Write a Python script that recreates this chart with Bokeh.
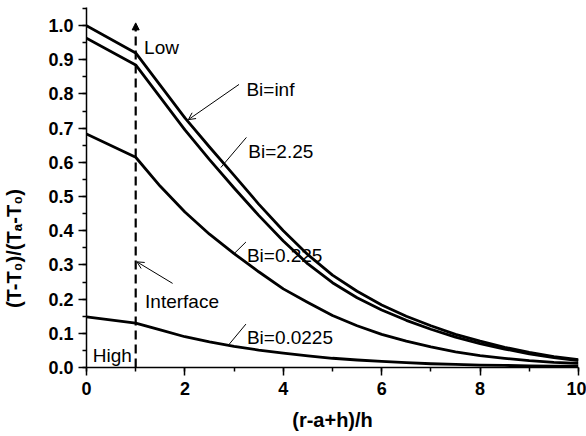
from bokeh.plotting import figure
from bokeh.models import (Range1d, SingleIntervalTicker, NumeralTickFormatter,
                          Arrow, OpenHead, NormalHead)
from bokeh.core.properties import value
from bokeh.embed import file_html
from bokeh.resources import INLINE

# ---- data ----
x_vals = [0, 1, 1.5, 2, 2.5, 3, 3.5, 4, 4.5, 5, 5.5, 6, 6.5, 7, 7.5, 8, 8.5, 9, 9.5, 10]
bi_inf = [1.0, 0.92, 0.825, 0.73, 0.645, 0.562, 0.478, 0.40, 0.33, 0.27,
          0.223, 0.183, 0.15, 0.122, 0.097, 0.077, 0.059, 0.044, 0.032, 0.023]
bi_2_25 = [0.963, 0.885, 0.79, 0.695, 0.608, 0.525, 0.445, 0.37, 0.303, 0.248,
           0.204, 0.168, 0.138, 0.112, 0.089, 0.07, 0.054, 0.04, 0.029, 0.02]
bi_0_225 = [0.683, 0.615, 0.53, 0.455, 0.39, 0.333, 0.28, 0.23, 0.19, 0.152,
            0.122, 0.097, 0.077, 0.06, 0.046, 0.035, 0.027, 0.02, 0.015, 0.012]
bi_0_0225 = [0.148, 0.13, 0.11, 0.09, 0.075, 0.062, 0.051, 0.042, 0.034, 0.027,
             0.022, 0.018, 0.014, 0.011, 0.009, 0.007, 0.006, 0.005, 0.004, 0.004]

interface_x = 1.0
interface_top = 1.008

labels = ["Bi=inf", "Bi=2.25", "Bi=0.225", "Bi=0.0225"]
label_x = [3.25, 3.29, 3.26, 3.26]
label_y = [0.814, 0.633, 0.328, 0.088]
# pointer line: start (near label) -> end (on curve)
ptr_x0 = [3.10, 3.25, 3.24, 3.24]
ptr_y0 = [0.828, 0.673, 0.367, 0.127]
ptr_x1 = [2.07, 2.73, 3.00, 2.90]
ptr_y1 = [0.725, 0.585, 0.333, 0.068]

notes = ["Low", "Interface", "High"]
note_x = [1.17, 1.19, 0.126]
note_y = [0.937, 0.192, 0.036]

x_title = "(r-a+h)/h"
y_title = "(T-T\u2080)/(T\u2090-T\u2080)"

FONT = "Liberation Sans"

p = figure(width=586, height=436, output_backend="svg", toolbar_location=None,
           x_range=Range1d(0, 10), y_range=Range1d(0, 1.053),
           min_border_left=86, min_border_right=8, min_border_top=7,
           min_border_bottom=69)
p.outline_line_color = None
p.xgrid.visible = False
p.ygrid.visible = False
p.background_fill_color = "white"
p.border_fill_color = "white"

for ys in (bi_inf, bi_2_25, bi_0_225, bi_0_0225):
    p.line(x_vals, ys, line_color="black", line_width=2.8, line_join="round")

# interface dashed arrow
p.add_layout(Arrow(end=NormalHead(size=7, fill_color="black", line_color="black", line_width=1),
                   x_start=interface_x, y_start=0, x_end=interface_x, y_end=interface_top,
                   line_dash="9 5", line_width=2.2, line_color="black"))

# pointer lines for labels
p.add_layout(Arrow(end=OpenHead(size=7, line_width=1, line_color="black"),
                   x_start=ptr_x0[0], y_start=ptr_y0[0], x_end=ptr_x1[0], y_end=ptr_y1[0],
                   line_width=1, line_color="black"))
p.segment(ptr_x0[1:], ptr_y0[1:], ptr_x1[1:], ptr_y1[1:], line_color="black", line_width=1)

# Interface pointer
p.add_layout(Arrow(end=OpenHead(size=7, line_width=1, line_color="black"),
                   x_start=1.75, y_start=0.246, x_end=1.025, y_end=0.309,
                   line_width=1, line_color="black"))

p.text(label_x, label_y, text=labels, text_font=value(FONT), text_font_size="19px",
       text_baseline="alphabetic", text_align="left", text_color="black")
p.text(note_x, note_y, text=notes, text_font=value(FONT), text_font_size="19px",
       text_baseline="alphabetic", text_align="left", text_color="black")

# axes
p.xaxis.ticker = SingleIntervalTicker(interval=2, num_minor_ticks=2)
p.yaxis.ticker = SingleIntervalTicker(interval=0.1, num_minor_ticks=2)
p.xaxis.formatter = NumeralTickFormatter(format="0")
p.yaxis.formatter = NumeralTickFormatter(format="0.0")
for ax in (p.xaxis[0], p.yaxis[0]):
    ax.axis_line_width = 1.5
    ax.axis_line_color = "black"
    ax.major_tick_line_width = 1.5
    ax.minor_tick_line_width = 1.5
    ax.major_tick_line_color = "black"
    ax.minor_tick_line_color = "black"
    ax.major_tick_out = 8
    ax.major_tick_in = 0
    ax.minor_tick_out = 4
    ax.minor_tick_in = 0
    ax.major_label_text_font = FONT
    ax.major_label_text_font_style = "bold"
    ax.major_label_text_font_size = "18px"
    ax.major_label_text_color = "black"
    ax.axis_label_text_font = FONT
    ax.axis_label_text_font_style = "bold"
    ax.axis_label_text_font_size = "20px"
    ax.axis_label_text_color = "black"

p.xaxis.axis_label = x_title
p.xaxis.major_label_standoff = 6
p.yaxis.major_label_standoff = 5
p.xaxis.axis_label_standoff = 11

# y title: padded at its (upper) end with no-break spaces so that it sits
# lower than the frame centre, as in the reference
p.yaxis.axis_label = y_title + "\u00a0" * 22
p.yaxis.axis_label_standoff = 20

open("out.html", "w").write(file_html(p, INLINE))
